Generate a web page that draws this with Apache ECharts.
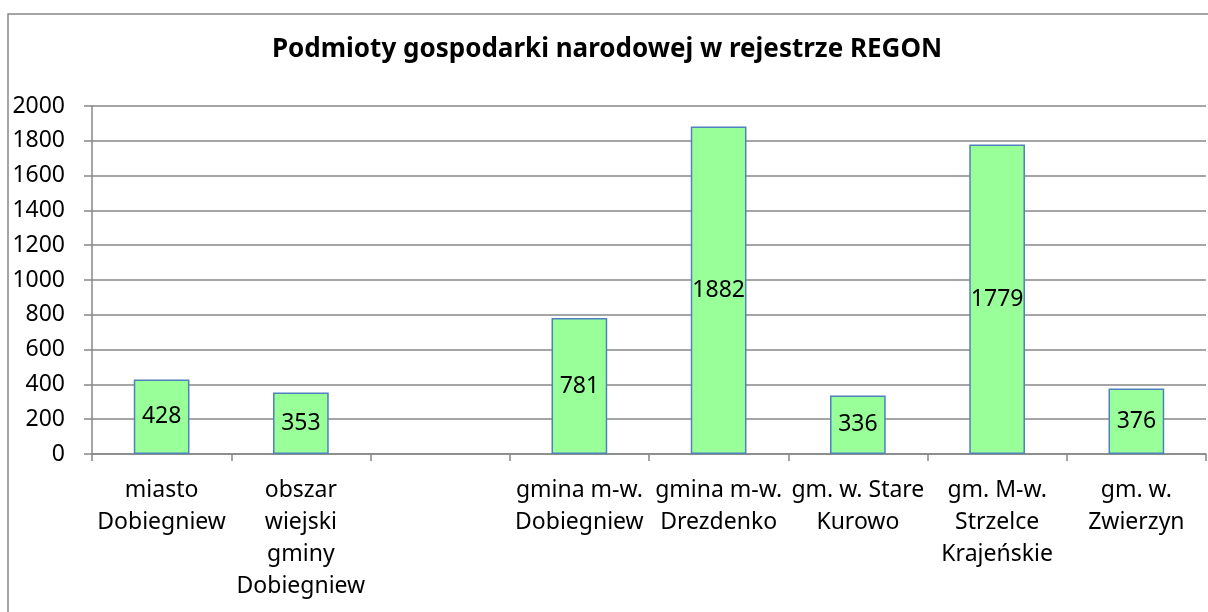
<!DOCTYPE html>
<html>
<head>
<meta charset="utf-8">
<script src="https://cdn.jsdelivr.net/npm/echarts@6/dist/echarts.min.js"></script>
<style>
  html, body { margin: 0; padding: 0; background: #fff; }
  #main { width: 1208px; height: 612px; }
</style>
</head>
<body>
<div id="main"></div>
<script>
var categories = [
  'miasto\nDobiegniew',
  'obszar\nwiejski\ngminy\nDobiegniew',
  '',
  'gmina m-w.\nDobiegniew',
  'gmina m-w.\nDrezdenko',
  'gm. w. Stare\nKurowo',
  'gm. M-w.\nStrzelce\nKrajeńskie',
  'gm. w.\nZwierzyn'
];
var values = [428, 353, null, 781, 1882, 336, 1779, 376];
var chartTitle = 'Podmioty gospodarki narodowej w rejestrze REGON';

var chartDom = document.getElementById('main');
var myChart = echarts.init(chartDom, null, { renderer: 'canvas' });
var font = 'Noto Sans';
var gridColor = '#878787';

var option = {
  animation: false,
  backgroundColor: '#fff',
  textStyle: { fontFamily: font },
  title: {
    text: chartTitle,
    left: 602,
    textAlign: 'center',
    top: 32,
    textStyle: { fontFamily: font, fontWeight: 'bold', fontSize: 26, color: '#000' }
  },
  graphic: [{
    type: 'rect',
    shape: { x: 8, y: 14, width: 1220, height: 620 },
    style: { fill: 'none', stroke: '#888', lineWidth: 1.5 },
    z: 100
  }],
  grid: { left: 92, right: 2, top: 106, bottom: 158, containLabel: false },
  xAxis: {
    type: 'category',
    data: categories,
    axisLine: { lineStyle: { color: gridColor, width: 1.5 } },
    axisTick: { show: true, length: 7, lineStyle: { color: gridColor, width: 1.5 } },
    axisLabel: {
      interval: 0,
      margin: 20,
      fontFamily: font,
      fontSize: 23,
      lineHeight: 32,
      color: '#000'
    }
  },
  yAxis: {
    type: 'value',
    min: 0,
    max: 2000,
    interval: 200,
    axisLine: { show: true, lineStyle: { color: gridColor, width: 1.5 } },
    axisTick: { show: true, length: 8, lineStyle: { color: gridColor, width: 1.5 } },
    splitLine: { lineStyle: { color: gridColor, width: 1.5 } },
    axisLabel: {
      margin: 27,
      fontFamily: font,
      fontSize: 23,
      color: '#000',
      formatter: function (v) { return String(v); }
    }
  },
  series: [{
    type: 'bar',
    data: values,
    barWidth: '40%',
    itemStyle: { color: '#99ff99', borderColor: '#4f81bd', borderWidth: 1.5 },
    label: {
      show: true,
      position: 'inside',
      fontFamily: font,
      fontSize: 23,
      color: '#000'
    }
  }]
};
myChart.setOption(option);
</script>
</body>
</html>
